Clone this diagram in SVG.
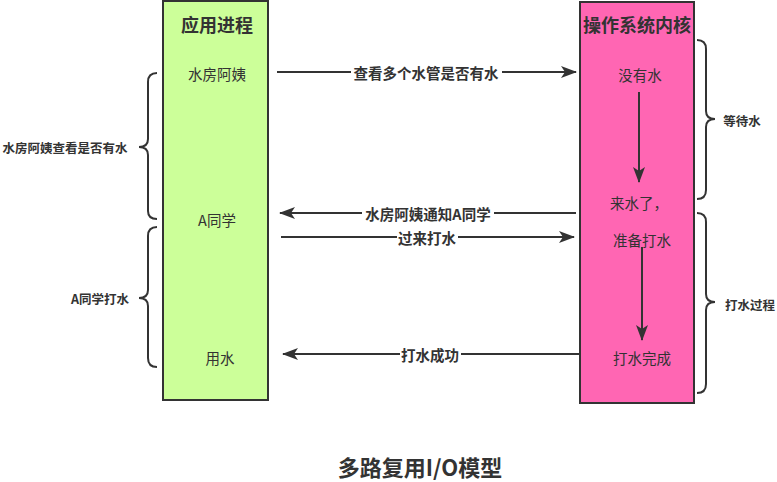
<svg xmlns="http://www.w3.org/2000/svg" width="777" height="482" viewBox="0 0 777 482">
<defs>
<style>
text{font-family:"Noto Sans CJK SC","Liberation Sans",sans-serif;fill:#333;dominant-baseline:central;text-anchor:middle}
.t{font-size:18px;font-weight:bold}
.n{font-size:14.5px}
.l{font-size:14.5px;font-weight:bold}
.b{font-size:12.5px;font-weight:bold}
.line{stroke:#333;stroke-width:2;fill:none}
.br{stroke:#333;stroke-width:2;fill:none}
.bg{fill:#fff}
</style>
<marker id="ah" viewBox="0 0 16 12" refX="15" refY="6" markerWidth="16" markerHeight="12" markerUnits="userSpaceOnUse" orient="auto">
<path d="M0,0 L16,6 L0,12 L4,6 Z" fill="#333"/>
</marker>
</defs>
<rect width="777" height="482" fill="#fff"/>
<g id="app">
<rect x="163" y="1" width="105" height="399" fill="#CCFF99" stroke="#333" stroke-width="2"/>
<text class="t" x="217" y="24">应用进程</text>
<text class="n" x="217" y="73">水房阿姨</text>
<text class="n" x="217" y="219">A同学</text>
<text class="n" x="220" y="357">用水</text>
</g>
<g id="kernel">
<rect x="580" y="2" width="114" height="401" fill="#FF66B3" stroke="#333" stroke-width="2"/>
<text class="t" x="637" y="24">操作系统内核</text>
<text class="n" x="640" y="74">没有水</text>
<text class="n" x="639" y="202">来水了，</text>
<text class="n" x="642" y="239">准备打水</text>
<text class="n" x="642" y="357">打水完成</text>
</g>
<g id="connectors">
<line class="line" x1="277" y1="72" x2="576" y2="72" marker-end="url(#ah)"/>
<line class="line" x1="576" y1="213" x2="280" y2="213" marker-end="url(#ah)"/>
<line class="line" x1="281" y1="237" x2="574" y2="237" marker-end="url(#ah)"/>
<line class="line" x1="579" y1="354" x2="283" y2="354" marker-end="url(#ah)"/>
<line class="line" x1="639" y1="92" x2="639" y2="182" marker-end="url(#ah)"/>
<line class="line" x1="642" y1="247" x2="642" y2="340" marker-end="url(#ah)"/>
<rect class="bg" x="351" y="64" width="151" height="16"/>
<text class="l" x="426" y="72">查看多个水管是否有水</text>
<rect class="bg" x="362" y="205" width="132" height="16"/>
<text class="l" x="428" y="213">水房阿姨通知A同学</text>
<rect class="bg" x="397" y="229" width="61" height="16"/>
<text class="l" x="427" y="237">过来打水</text>
<rect class="bg" x="400" y="346" width="61" height="16"/>
<text class="l" x="430" y="354">打水成功</text>
</g>
<g id="brace-left-1">
<path class="br" d="M157,73 Q148,73 148,82 L148,139 Q148,147 139,147 Q148,147 148,155 L148,211 Q148,219 157,219"/>
<text class="b" x="65" y="147">水房阿姨查看是否有水</text>
</g>
<g id="brace-left-2">
<path class="br" d="M157,227 Q148,227 148,236 L148,290 Q148,298 139,298 Q148,298 148,306 L148,358 Q148,367 157,367"/>
<text class="b" x="100" y="298">A同学打水</text>
</g>
<g id="brace-right-1">
<path class="br" d="M697,40 Q706,40 706,49 L706,111 Q706,119 715,119 Q706,119 706,127 L706,190 Q706,199 697,199"/>
<text class="b" x="742" y="120">等待水</text>
</g>
<g id="brace-right-2">
<path class="br" d="M697,213 Q706,213 706,222 L706,294 Q706,302 715,302 Q706,302 706,310 L706,384 Q706,393 697,393"/>
<text class="b" x="750" y="304">打水过程</text>
</g>
<g id="title">
<text x="420" y="466" style="font-size:22px;font-weight:bold">多路复用I/O模型</text>
</g>
</svg>
